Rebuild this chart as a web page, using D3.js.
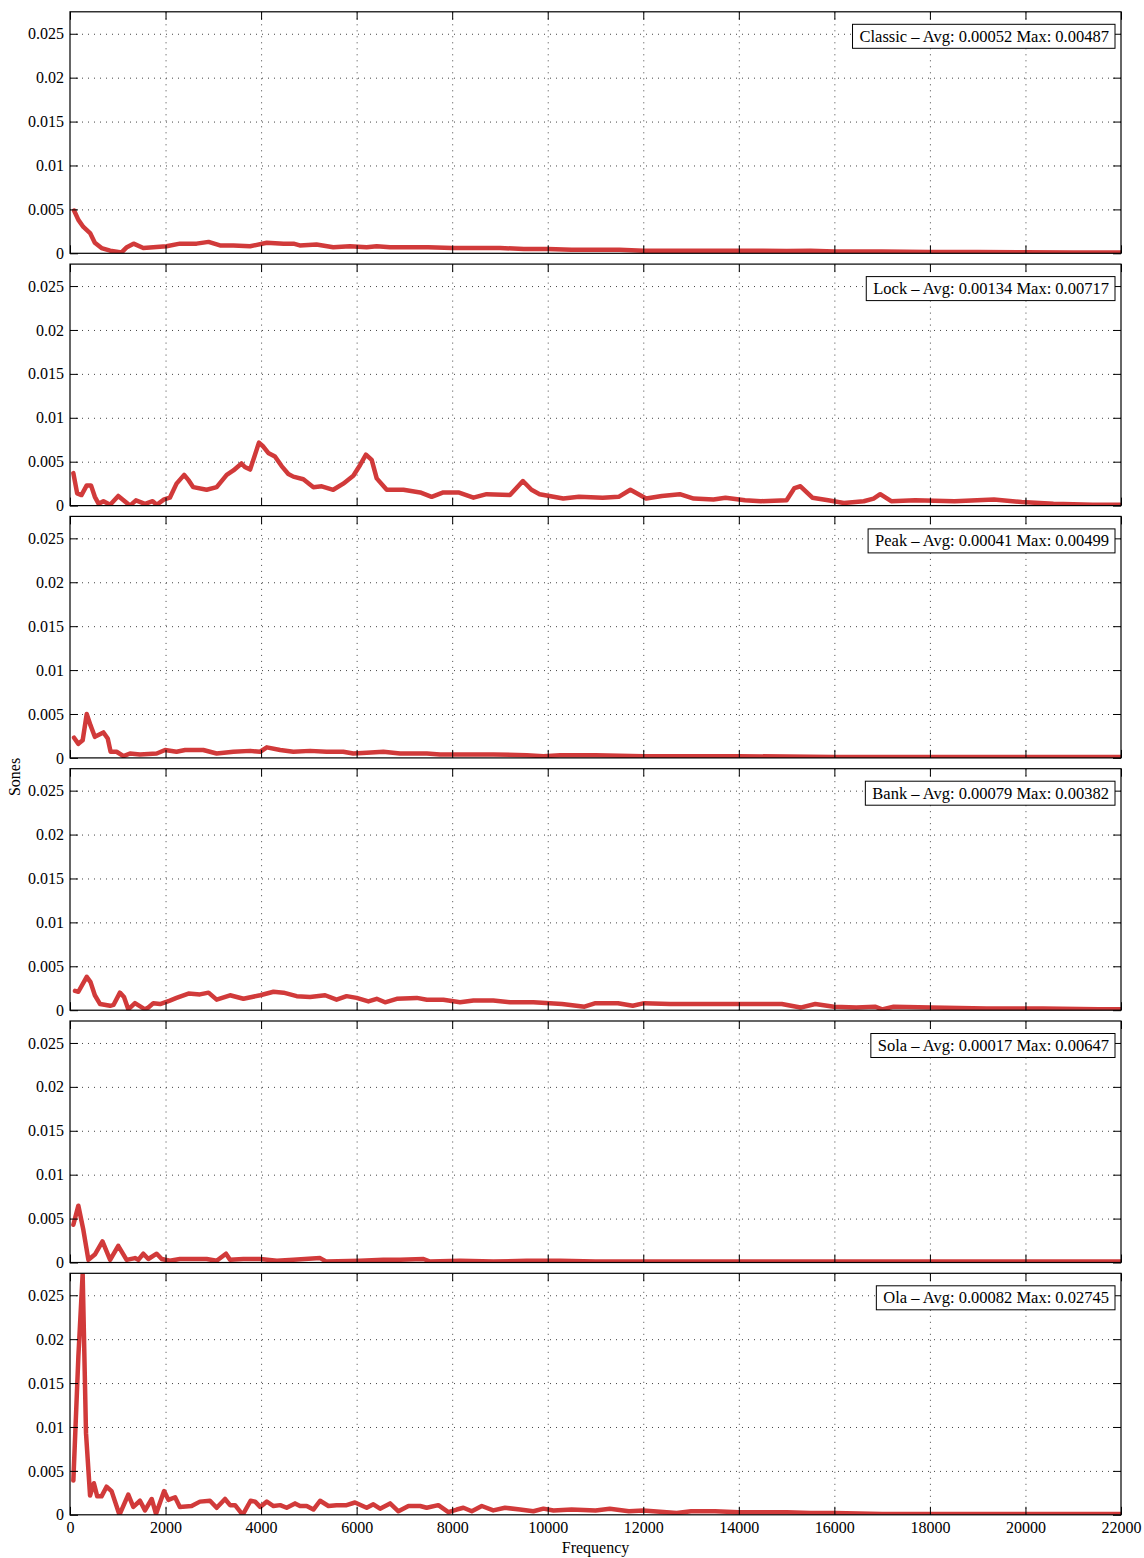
<!DOCTYPE html>
<html lang="en">
<head>
<meta charset="UTF-8">
<title>Sones per frequency</title>
<script src="https://cdn.jsdelivr.net/npm/d3@7"></script>
<style>
  body { margin: 0; background: #fff; }
  svg text { font-family: 'Liberation Serif', 'Times New Roman', serif; font-size: 16px; fill: #000; }
  .legend text { font-size: 16.5px; }
</style>
</head>
<body>
<svg id="chart" width="1144" height="1558"></svg>
<script>
// tick values
const freqTicks = [0, 2000, 4000, 6000, 8000, 10000, 12000, 14000, 16000, 18000, 20000, 22000];
const sonesTicks = [0, 0.005, 0.01, 0.015, 0.02, 0.025];

// panel names and stats shown in the legends
const panelNames = ["Classic", "Lock", "Peak", "Bank", "Sola", "Ola"];
const panelAvg = ["0.00052", "0.00134", "0.00041", "0.00079", "0.00017", "0.00082"];
const panelMax = ["0.00487", "0.00717", "0.00499", "0.00382", "0.00647", "0.02745"];

// [frequency, sones]
const classic = [[85,0.00487],[175,0.0038],[280,0.0030],[420,0.0023],[520,0.0012],[660,0.0006],[840,0.0003],[1080,0.0001],[1190,0.0007],[1330,0.0011],[1535,0.0006],[1745,0.0007],[2020,0.0008],[2300,0.0011],[2650,0.0011],[2900,0.0013],[3140,0.0009],[3420,0.0009],[3770,0.0008],[4120,0.0012],[4470,0.0011],[4680,0.0011],[4810,0.0009],[5160,0.0010],[5510,0.0007],[5860,0.0008],[6210,0.0007],[6420,0.0008],[6700,0.0007],[7000,0.0007],[7500,0.0007],[8000,0.0006],[8500,0.0006],[9000,0.0006],[9500,0.0005],[10000,0.0005],[10500,0.0004],[11000,0.0004],[11500,0.0004],[12000,0.0003],[12500,0.0003],[13000,0.0003],[13500,0.0003],[14000,0.0003],[14500,0.0003],[15000,0.00025],[15500,0.0003],[16000,0.0002],[17000,0.0002],[18000,0.00015],[19000,0.00015],[20000,0.00012],[21000,0.0001],[22000,0.0001]];

const lock = [[70,0.0037],[150,0.0014],[240,0.0012],[350,0.0023],[440,0.0023],[520,0.0010],[600,0.0002],[700,0.0005],[840,0.0001],[1010,0.0011],[1255,0.0000],[1380,0.0006],[1570,0.0002],[1730,0.0005],[1815,0.0001],[1970,0.0007],[2090,0.0009],[2230,0.0025],[2390,0.0035],[2480,0.0029],[2580,0.0021],[2860,0.0018],[3070,0.0021],[3280,0.0035],[3420,0.0040],[3590,0.0048],[3660,0.0044],[3770,0.0041],[3955,0.00717],[4050,0.0067],[4150,0.0060],[4290,0.0056],[4430,0.0045],[4570,0.0036],[4675,0.0033],[4885,0.0030],[5095,0.0021],[5270,0.0022],[5510,0.0018],[5720,0.0025],[5930,0.0034],[6070,0.0046],[6195,0.0058],[6315,0.0052],[6420,0.0031],[6630,0.0018],[6980,0.0018],[7330,0.0015],[7570,0.0010],[7815,0.0015],[8130,0.0015],[8445,0.0009],[8720,0.0013],[9210,0.0012],[9480,0.0028],[9660,0.0018],[9830,0.0013],[10325,0.0008],[10655,0.0010],[11150,0.0009],[11485,0.0010],[11730,0.0018],[12060,0.0008],[12390,0.0011],[12765,0.0013],[13055,0.0008],[13470,0.0007],[13720,0.0009],[14130,0.0006],[14465,0.0005],[15000,0.0006],[15165,0.0020],[15290,0.0022],[15540,0.0009],[15870,0.0006],[16200,0.0003],[16615,0.0005],[16820,0.0008],[16960,0.0013],[17190,0.0005],[17690,0.0006],[18515,0.0005],[19340,0.0007],[19920,0.0004],[20585,0.0002],[21410,0.0001],[21975,0.0001]];

const peak = [[85,0.0023],[175,0.0016],[265,0.0020],[350,0.00499],[430,0.0037],[520,0.0024],[700,0.0029],[790,0.0022],[850,0.0007],[975,0.0007],[1120,0.0002],[1255,0.0005],[1465,0.0004],[1815,0.0005],[1990,0.0009],[2230,0.0007],[2410,0.0009],[2790,0.0009],[3070,0.0005],[3420,0.0007],[3770,0.0008],[3980,0.0007],[4120,0.0012],[4400,0.0009],[4675,0.0007],[5025,0.0008],[5370,0.0007],[5720,0.0007],[5930,0.0005],[6210,0.0006],[6560,0.0007],[6910,0.0005],[7470,0.0005],[7745,0.0004],[8165,0.0004],[8860,0.0004],[9560,0.0003],[9910,0.0002],[10260,0.0003],[11000,0.0003],[12000,0.0002],[13000,0.0002],[14000,0.0002],[15000,0.00015],[16000,0.0001],[17000,0.0001],[18000,0.0001],[19000,0.0001],[20000,0.0001],[21000,0.0001],[22000,0.0001]];

const bank = [[105,0.0022],[175,0.0021],[350,0.0038],[430,0.0032],[520,0.0017],[630,0.0007],[840,0.0005],[910,0.0006],[1045,0.0020],[1130,0.0015],[1220,0.0001],[1360,0.0008],[1570,0.0001],[1640,0.0003],[1745,0.0008],[1885,0.0007],[2090,0.0011],[2230,0.0014],[2480,0.0019],[2720,0.0018],[2900,0.0020],[3070,0.0012],[3350,0.0017],[3630,0.0013],[3980,0.0017],[4260,0.0021],[4470,0.0020],[4745,0.0016],[5025,0.0015],[5340,0.0017],[5580,0.0012],[5790,0.0016],[6000,0.0014],[6245,0.0010],[6420,0.0013],[6595,0.0009],[6840,0.0013],[7260,0.0014],[7470,0.0012],[7815,0.0012],[8165,0.0009],[8445,0.0011],[8860,0.0011],[9210,0.0009],[9700,0.0009],[10300,0.0007],[10770,0.0004],[11000,0.0008],[11470,0.0008],[11780,0.0005],[12020,0.0008],[12560,0.0007],[13340,0.0007],[13960,0.0007],[14900,0.0007],[15290,0.0003],[15600,0.0007],[15990,0.0004],[16460,0.0003],[16850,0.0004],[17000,0.0001],[17240,0.0004],[18020,0.0003],[19190,0.0002],[20360,0.0002],[21530,0.0001],[22000,0.0001]];

const sola = [[70,0.0043],[175,0.00647],[280,0.0037],[385,0.0003],[520,0.0009],[680,0.0024],[840,0.0003],[1010,0.0019],[1185,0.0003],[1360,0.0005],[1430,0.0003],[1535,0.0010],[1640,0.0004],[1815,0.0010],[1920,0.0004],[2090,0.0002],[2300,0.0004],[2580,0.0004],[2860,0.0004],[3070,0.0002],[3265,0.0010],[3350,0.0003],[3630,0.0004],[3980,0.0004],[4330,0.0002],[4675,0.0003],[5235,0.0005],[5370,0.0001],[6070,0.0002],[6560,0.0003],[6910,0.0003],[7400,0.0004],[7535,0.0001],[8165,0.0002],[8860,0.0001],[9560,0.0002],[10260,0.0002],[11000,0.0001],[12000,0.0001],[13000,0.0001],[14000,0.0001],[15000,0.0001],[16000,0.0001],[17000,0.0001],[18000,0.0001],[19000,0.0001],[20000,0.0001],[21000,0.0001],[22000,0.0001]];

const ola = [[70,0.0039],[175,0.0180],[265,0.02745],[335,0.0093],[420,0.0022],[500,0.0036],[570,0.0021],[660,0.0021],[765,0.0032],[870,0.0027],[1035,0.0000],[1220,0.0023],[1325,0.0009],[1465,0.0016],[1570,0.0005],[1710,0.0018],[1800,0.0001],[1970,0.0027],[2060,0.0017],[2200,0.0020],[2300,0.0009],[2545,0.0010],[2720,0.0015],[2930,0.0016],[3070,0.0008],[3245,0.0018],[3350,0.0011],[3455,0.0011],[3615,0.0000],[3780,0.0016],[3875,0.0015],[3980,0.0009],[4120,0.0015],[4260,0.0010],[4400,0.0011],[4535,0.0008],[4710,0.0013],[4815,0.0010],[4955,0.0010],[5095,0.0006],[5235,0.0016],[5410,0.0010],[5580,0.0011],[5790,0.0011],[5965,0.0014],[6210,0.0008],[6350,0.0012],[6490,0.0007],[6700,0.0013],[6875,0.0004],[7085,0.0010],[7330,0.0010],[7465,0.0008],[7710,0.0011],[7920,0.0003],[8095,0.0006],[8235,0.0008],[8410,0.0004],[8620,0.0010],[8860,0.0005],[9105,0.0008],[9420,0.0006],[9700,0.0004],[9910,0.0007],[10120,0.0005],[10500,0.0006],[11000,0.0005],[11300,0.0007],[11700,0.0004],[12000,0.0005],[12700,0.0002],[13000,0.0004],[13500,0.0004],[14000,0.0003],[14500,0.0003],[15000,0.0003],[15500,0.0002],[16000,0.0002],[17000,0.0001],[18000,0.0001],[19000,0.0001],[20000,0.0001],[21000,0.0001],[22000,0.0001]];

const series = [classic, lock, peak, bank, sola, ola];

// layout
const left = 70, right = 1121;
const firstTop = 11.8, panelH = 241.5, panelStep = 252.3;
const lineColor = "#d13a3a";

const svg = d3.select("#chart");
const x = d3.scaleLinear().domain([0, 22000]).range([left, right]);

series.forEach((data, i) => {
  const top = firstTop + i * panelStep;
  const bottom = top + panelH;
  const y = d3.scaleLinear().domain([0, 0.0275]).range([bottom, top]);
  const g = svg.append("g");

  // dotted grid
  g.append("g")
    .attr("transform", `translate(0,${bottom})`)
    .call(d3.axisBottom(x).tickValues(freqTicks.slice(1, -1)).tickSize(-panelH).tickFormat(""))
    .call(s => s.select(".domain").remove())
    .selectAll("line").attr("stroke", "#444").attr("stroke-dasharray", "1,5");
  g.append("g")
    .attr("transform", `translate(${left},0)`)
    .call(d3.axisLeft(y).tickValues(sonesTicks.slice(1)).tickSize(-(right - left)).tickFormat(""))
    .call(s => s.select(".domain").remove())
    .selectAll("line").attr("stroke", "#444").attr("stroke-dasharray", "1,5");

  // clip for the curve
  svg.append("clipPath").attr("id", "clip" + i)
    .append("rect").attr("x", left).attr("y", top).attr("width", right - left).attr("height", panelH);

  const line = d3.line().x(d => x(d[0])).y(d => y(d[1]));
  g.append("path")
    .datum(data)
    .attr("clip-path", `url(#clip${i})`)
    .attr("d", line)
    .attr("fill", "none")
    .attr("stroke", lineColor)
    .attr("stroke-width", 4.5)
    .attr("stroke-linejoin", "round")
    .attr("stroke-linecap", "round");

  // inward ticks on all sides
  const last = i === series.length - 1;
  g.append("g").attr("transform", `translate(${left},0)`)
    .call(d3.axisLeft(y).tickValues(sonesTicks).tickSize(-8).tickSizeOuter(0).tickPadding(6).tickFormat(d => String(d)))
    .call(s => s.select(".domain").remove())
    .call(s => s.selectAll("text").attr("font-size", null).attr("font-family", null));
  g.append("g").attr("transform", `translate(${right},0)`)
    .call(d3.axisRight(y).tickValues(sonesTicks).tickSize(-8).tickSizeOuter(0).tickFormat(""))
    .call(s => s.select(".domain").remove());
  g.append("g").attr("transform", `translate(0,${top})`)
    .call(d3.axisTop(x).tickValues(freqTicks).tickSize(-8).tickSizeOuter(0).tickFormat(""))
    .call(s => s.select(".domain").remove());
  g.append("g").attr("transform", `translate(0,${bottom})`)
    .call(d3.axisBottom(x).tickValues(freqTicks).tickSize(-8).tickSizeOuter(0).tickPadding(7)
      .tickFormat(last ? d => String(d) : ""))
    .call(s => s.select(".domain").remove())
    .call(s => s.selectAll("text").attr("font-size", null).attr("font-family", null));

  // frame
  g.append("rect")
    .attr("x", left).attr("y", top).attr("width", right - left).attr("height", panelH)
    .attr("fill", "none").attr("stroke", "#000").attr("stroke-width", 1.2);

  // legend box
  const lg = g.append("g").attr("class", "legend");
  const txt = lg.append("text")
    .attr("y", top + 30)
    .attr("text-anchor", "end")
    .text(`${panelNames[i]} \u2013 Avg: ${panelAvg[i]} Max: ${panelMax[i]}`);
  txt.attr("x", right - 12);
  const w = txt.node().getComputedTextLength();
  lg.insert("rect", "text")
    .attr("x", right - 12 - w - 7).attr("y", top + 12.5)
    .attr("width", w + 13).attr("height", 24)
    .attr("fill", "#fff").attr("stroke", "#000").attr("stroke-width", 1);
});

// axis titles
svg.append("text")
  .attr("x", (left + right) / 2).attr("y", 1553)
  .attr("text-anchor", "middle")
  .text("Frequency");
svg.append("text")
  .attr("transform", "translate(20,777) rotate(-90)")
  .attr("text-anchor", "middle")
  .text("Sones");
</script>
</body>
</html>
